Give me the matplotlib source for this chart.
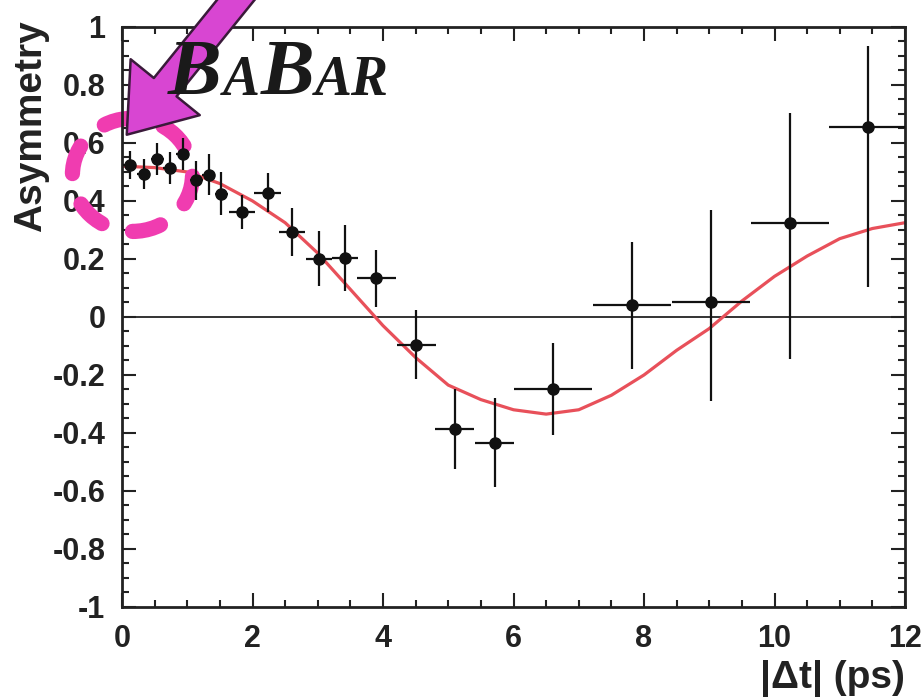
"""BaBar mixing asymmetry vs |dt| with fit curve, plus the magenta hand annotations."""
import matplotlib
matplotlib.use("Agg")
import matplotlib.pyplot as plt
from matplotlib.patches import Ellipse, FancyArrowPatch
from matplotlib.ticker import MultipleLocator

# data points
dt = [0.12, 0.33, 0.54, 0.73, 0.93, 1.14, 1.33, 1.52, 1.84, 2.23, 2.61, 3.02, 3.42,
      3.90, 4.51, 5.10, 5.71, 6.61, 7.82, 9.03, 10.24, 11.43]
dt_err = [0.1, 0.1, 0.1, 0.1, 0.1, 0.1, 0.1, 0.1, 0.2, 0.2, 0.2, 0.2, 0.2,
          0.3, 0.3, 0.3, 0.3, 0.6, 0.6, 0.6, 0.6, 0.6]
asym = [0.525, 0.494, 0.546, 0.514, 0.563, 0.471, 0.491, 0.425, 0.362, 0.429, 0.293,
        0.201, 0.203, 0.134, -0.095, -0.387, -0.433, -0.249, 0.040, 0.050, 0.325, 0.655]
err_lo = [0.048, 0.052, 0.055, 0.055, 0.055, 0.066, 0.072, 0.075, 0.057, 0.066, 0.083,
          0.095, 0.115, 0.098, 0.12, 0.138, 0.155, 0.159, 0.22, 0.34, 0.47, 0.55]
err_hi = [0.048, 0.052, 0.055, 0.055, 0.055, 0.066, 0.072, 0.075, 0.057, 0.066, 0.083,
          0.095, 0.115, 0.098, 0.12, 0.138, 0.155, 0.159, 0.22, 0.32, 0.38, 0.28]

# fit curve, read at 0.5 ps steps
fit_t = [0, 0.5, 1.0, 1.5, 2.0, 2.5, 3.0, 3.5, 4.0, 4.5, 5.0, 5.5, 6.0, 6.5, 7.0, 7.5,
         8.0, 8.5, 9.0, 9.5, 10.0, 10.5, 11.0, 11.5, 12.0]
fit_a = [0.52, 0.515, 0.50, 0.46, 0.40, 0.325, 0.22, 0.095, -0.03, -0.14, -0.235, -0.285,
         -0.32, -0.335, -0.32, -0.27, -0.20, -0.115, -0.04, 0.055, 0.14, 0.21, 0.27, 0.305, 0.325]

plt.rcParams["font.family"] = ["Liberation Sans", "DejaVu Sans"]
plt.rcParams["font.weight"] = "bold"

fig = plt.figure(figsize=(9.23, 7.0), dpi=100)
ax = fig.add_axes([0.1322, 0.1329, 0.8483, 0.8286])

ax.axhline(0, color="#333333", lw=1.4, zorder=1)
ax.plot(fit_t, fit_a, color="#e8505a", lw=2.3, zorder=2)
ax.errorbar(dt, asym, xerr=dt_err, yerr=[err_lo, err_hi], fmt="o", color="#111111",
            ms=8, elinewidth=1.6, capsize=0, zorder=3)

ax.set_xlim(0, 12)
ax.set_ylim(-1, 1)
ax.xaxis.set_major_locator(MultipleLocator(2))
ax.xaxis.set_minor_locator(MultipleLocator(0.5))
ax.yaxis.set_major_locator(MultipleLocator(0.2))
ax.yaxis.set_minor_locator(MultipleLocator(0.05))
ax.set_xticks(range(0, 13, 2), [str(v) for v in range(0, 13, 2)])
ax.set_yticks([-1, -0.8, -0.6, -0.4, -0.2, 0, 0.2, 0.4, 0.6, 0.8, 1],
              ["-1", "-0.8", "-0.6", "-0.4", "-0.2", "0", "0.2", "0.4", "0.6", "0.8", "1"])
ax.tick_params(which="both", direction="in", top=True, right=True, width=1.5,
               labelsize=22, colors="#222222")
ax.tick_params(which="major", length=10)
ax.tick_params(which="minor", length=5)
ax.tick_params(axis="y", pad=12)
ax.tick_params(axis="x", pad=12)
for s in ax.spines.values():
    s.set_linewidth(2)
    s.set_color("#222222")

ax.set_ylabel("Asymmetry", fontsize=28, fontweight="bold", color="#222222")
ax.yaxis.label.set(ha="right", va="center", rotation_mode="anchor")
ax.yaxis.set_label_coords(-0.116, 1.012)
ax.set_xlabel("|Δt| (ps)", fontsize=28, fontweight="bold", color="#222222")
ax.xaxis.label.set(ha="right", va="center")
ax.xaxis.set_label_coords(1.0, -0.124)

# BABAR logo in small caps, placed piece by piece
r = fig.canvas.get_renderer()
x = 168 / 923
for txt, size in [("B", 58), ("A", 40), ("B", 58), ("AR", 40)]:
    t = fig.text(x, (700 - 95) / 700, txt, fontsize=size, family="Liberation Serif",
                 style="italic", weight="bold", color="#1a1a1a", va="baseline")
    bb = t.get_window_extent(r)
    x = bb.x1 / fig.bbox.width + 0.001

# magenta hand drawings
ell = Ellipse((0.16, 0.49), 1.84, 0.39, fill=False, ec="#f03cb0", lw=11,
              ls=(0, (1.9, 2.1)), capstyle="round", zorder=2.5, clip_on=False)
ax.add_patch(ell)
arr = FancyArrowPatch((2.25, 1.234), (0.046, 0.621), mutation_scale=1,
                      arrowstyle="simple,head_width=64,head_length=44,tail_width=21",
                      fc="#d846d2", ec="#3a1a3a", lw=1.8, zorder=5, clip_on=False)
ax.add_patch(arr)

fig.savefig("out.png", dpi=100)
